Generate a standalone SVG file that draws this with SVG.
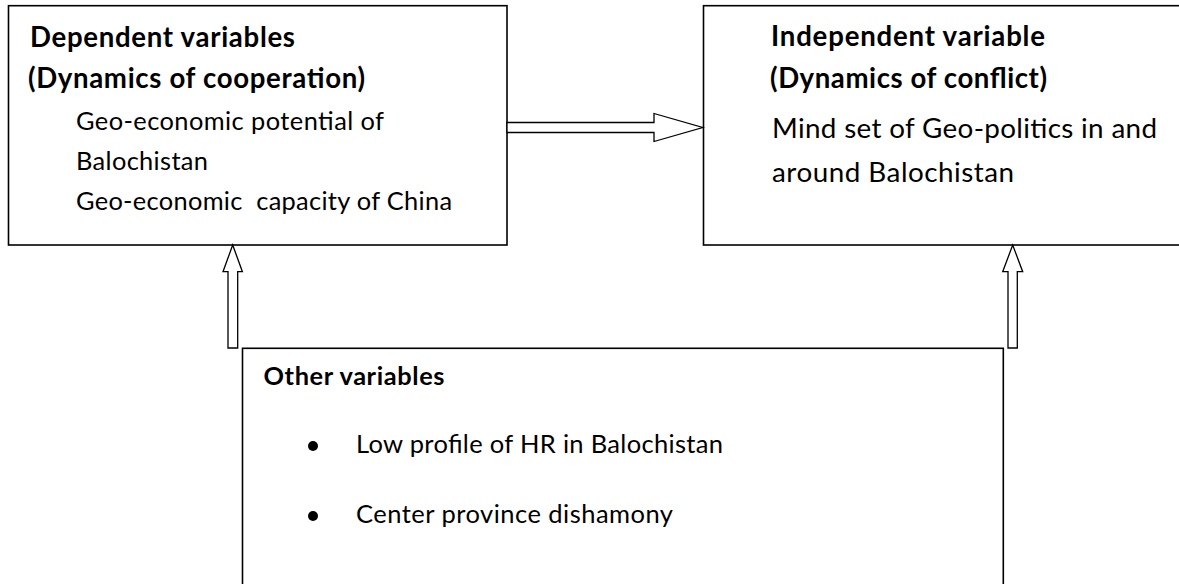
<svg xmlns="http://www.w3.org/2000/svg" width="1179" height="584" viewBox="0 0 1179 584">
<style>
.box{fill:#fff;stroke:#000;stroke-width:1.6}
.arr{fill:#fff;stroke:#000;stroke-width:1.3;stroke-linejoin:miter}
text{font-family:Lato,"Open Sans","Liberation Sans",sans-serif;fill:#000}
.b{font-weight:bold;font-size:27.6px}
.r1{font-size:25.4px}
.r2{font-size:27.8px}
.r3{font-size:25.5px}
.b3{font-weight:bold;font-size:25.4px}
</style>
<rect width="1179" height="584" fill="#fff"/>
<g id="dependent">
<rect class="box" x="8.5" y="5.7" width="498.5" height="239.3"/>
<text class="b" x="30" y="47" textLength="265">Dependent variables</text>
<text class="b" x="28" y="88" textLength="337">(Dynamics of cooperation)</text>
<text class="r1" x="76" y="130" textLength="308">Geo-economic potential of</text>
<text class="r1" x="76" y="170" textLength="132">Balochistan</text>
<text class="r1" x="76" y="210" textLength="376" xml:space="preserve">Geo-economic  capacity of China</text>
</g>
<g id="independent">
<rect class="box" x="703.5" y="5.7" width="500" height="239.3"/>
<text class="b" x="771" y="46" textLength="274">Independent variable</text>
<text class="b" x="770" y="88" textLength="277">(Dynamics of conflict)</text>
<text class="r2" x="772" y="138" textLength="385">Mind set of Geo-politics in and</text>
<text class="r2" x="772" y="182" textLength="242">around Balochistan</text>
</g>
<g id="other">
<rect class="box" x="242.5" y="348.3" width="760.8" height="260"/>
<text class="b3" x="263.5" y="385" textLength="181">Other variables</text>
<circle cx="313" cy="446" r="5"/>
<text class="r3" x="356" y="453" textLength="367">Low profile of HR in Balochistan</text>
<circle cx="313" cy="516" r="5"/>
<text class="r3" x="356" y="523" textLength="317">Center province dishamony</text>
</g>
<g id="connectors">
<polygon class="arr" points="507,122.5 654,122.5 654,113.5 702.7,127.5 654,141.5 654,132.5 507,132.5"/>
<polygon class="arr" points="228,348 228,271.7 223,271.7 232.7,245 242.4,271.7 237.7,271.7 237.7,348"/>
<polygon class="arr" points="1008,348 1008,271.7 1002.7,271.7 1012.7,245 1022.7,271.7 1017.3,271.7 1017.3,348"/>
</g>
</svg>
